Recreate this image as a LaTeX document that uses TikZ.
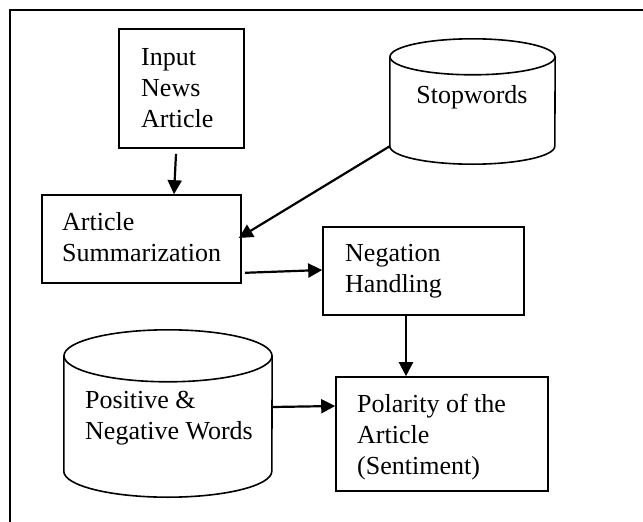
\documentclass[tikz,border=0pt]{standalone}
\usepackage{fontspec}
\setmainfont{Liberation Serif}
\usetikzlibrary{arrows.meta,calc}
\newcommand\bodyfont{\fontsize{26pt}{31pt}\selectfont}
\begin{document}
\begin{tikzpicture}[x=1pt,y=-1pt,
  frameline/.style={line width=1.7pt},
  boxshape/.style={draw, line width=1.6pt, inner sep=0pt},
  dbbody/.style={inner sep=0pt},
  cyl/.style={line width=1.6pt},
  lbl/.style={anchor=north west, inner sep=0pt, align=left, font=\bodyfont},
  conn/.style={line width=2.2pt, -{Triangle[length=14pt,width=14pt]}}]
\useasboundingbox (0,0) rectangle (643,522);
\draw[frameline] (10,522) -- (10,10) -- (643,10);
% boxes
\node[boxshape, minimum width=125pt, minimum height=119pt] (input) at (181.5,88.5) {};
\node[boxshape, minimum width=199pt, minimum height=88pt] (summ) at (141.5,239) {};
\node[boxshape, minimum width=201pt, minimum height=88pt] (neg) at (423.5,271) {};
\node[boxshape, minimum width=212pt, minimum height=114pt] (pol) at (442,434) {};
% cylinder bodies
\node[dbbody, minimum width=165pt, minimum height=89pt] (stop) at (472.5,101.5) {};
\node[dbbody, minimum width=208pt, minimum height=115pt] (pos) at (168,413.5) {};
\draw[cyl] (stop.north west) -- (stop.south west) arc[start angle=180,end angle=360,x radius=82.5pt,y radius=18pt] -- (stop.north east);
\draw[cyl] (stop.north) ellipse[x radius=82.5pt,y radius=18pt];
\draw[cyl] (pos.north west) -- (pos.south west) arc[start angle=180,end angle=360,x radius=104pt,y radius=26pt] -- (pos.north east);
\draw[cyl] (pos.north) ellipse[x radius=104pt,y radius=26pt];
% texts
\node[lbl] (tinput) at (141,43.3) {\strut Input\\News\\Article};
\node[lbl] (tsumm) at (62,208.3) {\strut Article\\Summarization};
\node[lbl] (tneg) at (345,239.3) {\strut Negation\\Handling};
\node[font=\bodyfont, inner sep=0pt, anchor=base] (tstop) at (472,103) {Stopwords};
\node[lbl] (tpos) at (85,386.3) {\strut Positive \&\\Negative Words};
\node[lbl] (tpol) at (357,390.3) {\strut Polarity of the\\Article\\(Sentiment)};
% connectors
\draw[conn] ($(input.south)+(-5.5,5)$) -- ($(summ.north)+(32.5,0)$);
\draw[conn] (stop.south west) -- ($(summ.east)+(-3,-1)$);
\draw[conn] ($(summ.south east)+(3,-11)$) -- ($(neg.west)+(0,-1)$);
\draw[conn] ($(neg.south)+(-17.5,0)$) -- ($(pol.north)+(-36,0)$);
\draw[conn] ($(pos.east)+(0,-6.5)$) -- ($(pol.west)+(0,-28)$);
\end{tikzpicture}
\end{document}
